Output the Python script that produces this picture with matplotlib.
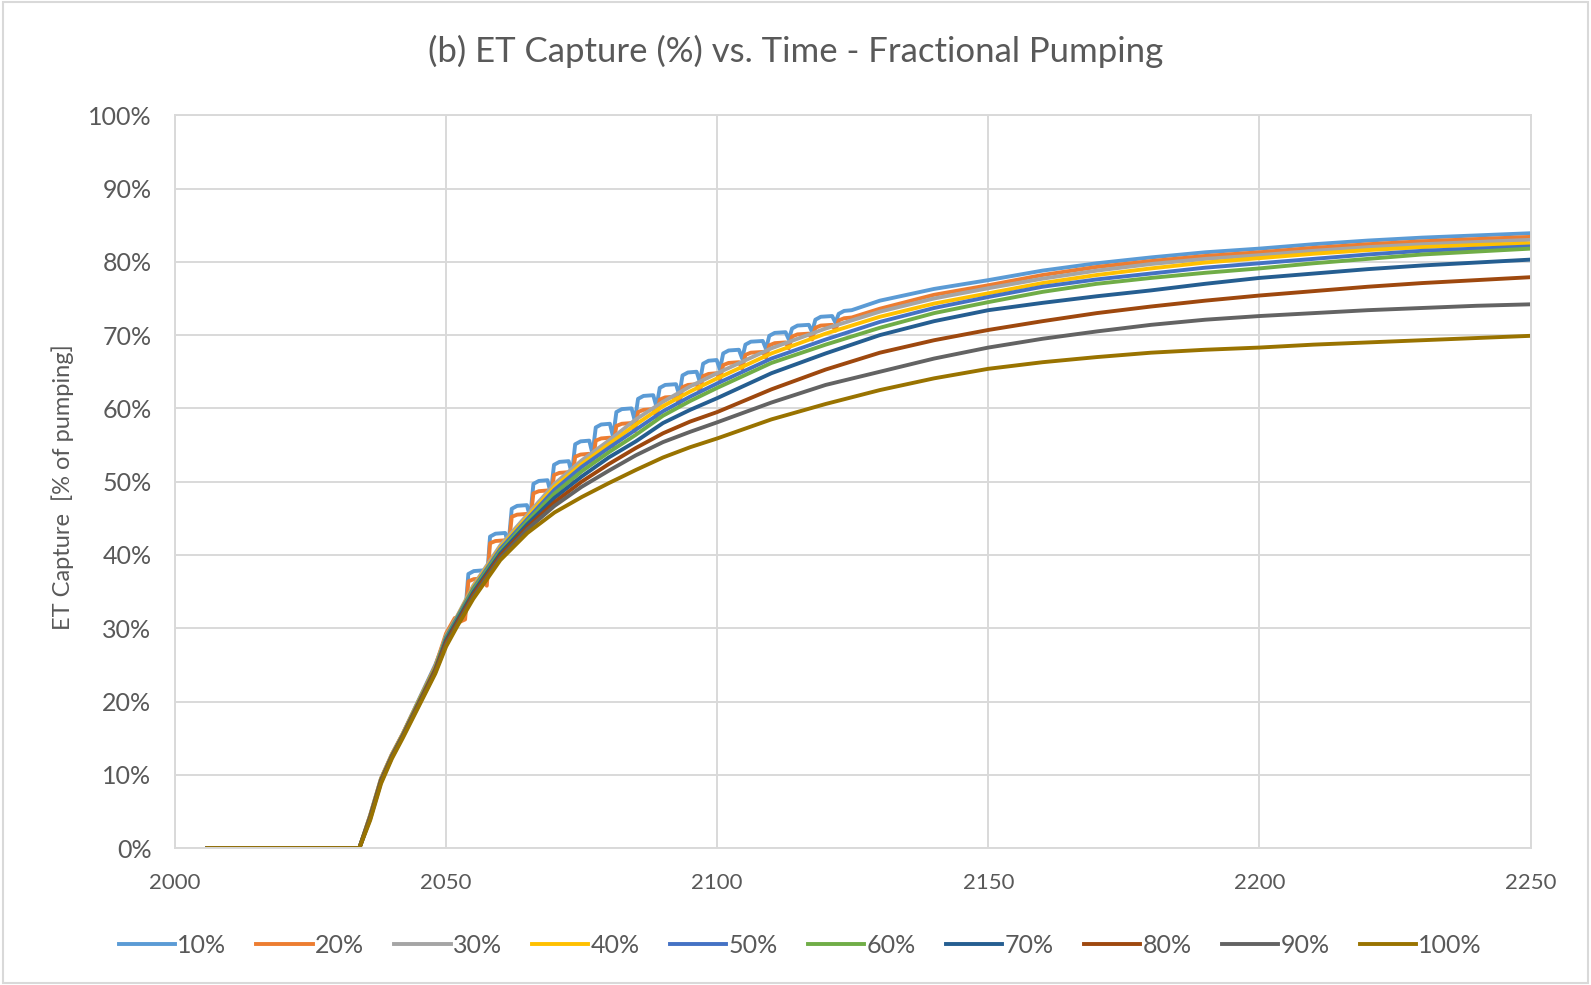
import matplotlib
matplotlib.use("Agg")
import matplotlib.pyplot as plt
from matplotlib.ticker import PercentFormatter, MultipleLocator
from matplotlib.patches import Rectangle

plt.rcParams['font.family'] = ['Lato', 'DejaVu Sans']

# shared time grid for the smoother curves
years = [2006, 2034, 2036, 2038, 2040, 2042, 2045, 2048, 2050, 2052, 2055, 2060,
         2065, 2070, 2075, 2080, 2085, 2090, 2095, 2100, 2110, 2120, 2130, 2140,
         2150, 2160, 2170, 2180, 2190, 2200, 2210, 2220, 2230, 2240, 2250]

# 10% and 20% show the saw-tooth, so they get a denser grid of their own
years_saw = [2053.5, 2054.1, 2055.1, 2056.9, 2057.5, 2058.1, 2059.1, 2060.9,
             2061.5, 2062.1, 2063.1, 2064.9, 2065.5, 2066.1, 2067.1, 2068.7,
             2069.3, 2069.9, 2070.9, 2072.6, 2073.2, 2073.8, 2074.8, 2076.4,
             2077.0, 2077.6, 2078.6, 2080.2, 2080.8, 2081.4, 2082.4, 2084.2,
             2084.8, 2085.4, 2086.4, 2088.2, 2088.8, 2089.4, 2090.4, 2092.4,
             2093.0, 2093.6, 2094.6, 2096.2, 2096.8, 2097.4, 2098.4, 2099.9,
             2100.5, 2101.1, 2102.1, 2104.0, 2104.6, 2105.2, 2106.2, 2108.4,
             2109.0, 2109.6, 2110.6, 2112.6, 2113.2, 2113.8, 2114.8, 2116.9,
             2117.5, 2118.1, 2119.1, 2121.2, 2121.8, 2122.4, 2123.4, 2124.8]
years_late = [2130, 2140, 2150, 2160, 2170, 2180, 2190, 2200, 2210, 2220, 2230, 2240, 2250]

years_10 = [2006, 2034, 2036, 2038, 2040, 2042, 2045, 2048, 2050, 2052] + years_saw + years_late
cap_10 = [0, 0, 4.5, 9.5, 12.8, 15.6, 20.3, 25.0, 28.8, 31.0,
          31.8, 37.4, 37.8, 37.9, 36.4, 42.5, 42.9, 43.0,
          41.4, 46.3, 46.7, 46.8, 45.1, 49.7, 50.1, 50.2,
          48.4, 52.3, 52.7, 52.8, 51.0, 55.1, 55.5, 55.6,
          53.8, 57.4, 57.8, 57.9, 56.1, 59.5, 59.9, 60.0,
          58.3, 61.3, 61.7, 61.8, 60.2, 62.8, 63.2, 63.3,
          61.8, 64.5, 64.9, 65.0, 63.6, 66.1, 66.5, 66.6,
          65.3, 67.5, 67.9, 68.0, 66.8, 68.7, 69.1, 69.2,
          68.1, 69.9, 70.3, 70.4, 69.4, 70.9, 71.3, 71.4,
          70.4, 72.1, 72.5, 72.6, 71.7, 72.9, 73.3, 73.4,
          74.7, 76.3, 77.5, 78.8, 79.8, 80.6, 81.3, 81.8, 82.4, 82.9, 83.3, 83.6, 83.9]

years_20 = [2006, 2034, 2036, 2038, 2040, 2042, 2045, 2048, 2050, 2051.6, 2052.6] + years_saw + years_late
cap_20 = [0, 0, 4.5, 9.5, 12.8, 15.6, 20.2, 24.8, 29.3, 31.4, 30.9,
          31.2, 36.4, 36.7, 36.8, 35.8, 41.6, 41.9, 42.0,
          40.9, 45.2, 45.5, 45.6, 44.5, 48.4, 48.7, 48.8,
          47.6, 50.9, 51.2, 51.3, 50.1, 53.4, 53.7, 53.8,
          52.6, 55.6, 55.9, 56.0, 54.8, 57.6, 57.9, 58.0,
          56.9, 59.5, 59.8, 59.9, 58.8, 61.2, 61.5, 61.6,
          60.6, 62.9, 63.2, 63.3, 62.3, 64.4, 64.7, 64.8,
          63.9, 65.9, 66.2, 66.3, 65.4, 67.3, 67.6, 67.7,
          66.9, 68.6, 68.9, 69.0, 68.2, 69.8, 70.1, 70.2,
          69.4, 71.0, 71.3, 71.4, 70.6, 72.0, 72.3, 72.4,
          73.6, 75.5, 76.8, 78.2, 79.3, 80.1, 80.8, 81.3, 81.9, 82.4, 82.8, 83.1, 83.4]

cap_30 = [0, 0, 4.4, 9.4, 12.7, 15.5, 20.1, 24.6,
          29.0, 31.6, 35.8, 41.3, 45.5, 49.7, 52.9, 55.6, 58.5, 60.9, 63.0, 64.8, 68.2, 70.9,
          73.2, 75.0, 76.4, 77.7, 78.8, 79.7, 80.4, 80.9, 81.5, 82.0, 82.4, 82.7, 83.0]
cap_40 = [0, 0, 4.4, 9.4, 12.7, 15.5, 20.1, 24.6,
          28.9, 31.5, 35.6, 41.0, 45.2, 49.3, 52.4, 55.1, 57.8, 60.3, 62.3, 64.1, 67.5, 70.2,
          72.5, 74.3, 75.7, 77.1, 78.2, 79.1, 79.9, 80.5, 81.1, 81.6, 82.0, 82.3, 82.5]
cap_50 = [0, 0, 4.3, 9.3, 12.6, 15.4, 20.0, 24.5,
          28.8, 31.4, 35.4, 40.8, 44.9, 48.9, 52.0, 54.6, 57.1, 59.6, 61.6, 63.4, 66.8, 69.4,
          71.8, 73.7, 75.2, 76.6, 77.6, 78.4, 79.2, 79.8, 80.4, 81.0, 81.5, 81.8, 82.1]
cap_60 = [0, 0, 4.3, 9.3, 12.6, 15.4, 20.0, 24.5,
          28.6, 31.2, 35.2, 40.5, 44.6, 48.4, 51.4, 54.0, 56.4, 59.0, 61.0, 62.8, 66.2, 68.7,
          71.0, 73.0, 74.5, 75.9, 77.0, 77.8, 78.5, 79.1, 79.8, 80.4, 81.0, 81.4, 81.8]
cap_70 = [0, 0, 4.2, 9.2, 12.5, 15.3, 19.8, 24.3,
          28.4, 31.0, 34.9, 40.2, 44.2, 47.8, 50.7, 53.3, 55.5, 58.0, 59.8, 61.4, 64.8, 67.5,
          70.0, 71.9, 73.4, 74.4, 75.3, 76.1, 77.0, 77.8, 78.4, 79.0, 79.5, 79.9, 80.3]
cap_80 = [0, 0, 4.2, 9.2, 12.5, 15.3, 19.8, 24.3,
          28.1, 30.7, 34.6, 39.9, 43.8, 47.2, 50.0, 52.4, 54.6, 56.6, 58.2, 59.5, 62.6, 65.3,
          67.6, 69.3, 70.7, 71.9, 73.0, 73.9, 74.7, 75.4, 76.0, 76.6, 77.1, 77.5, 77.9]
cap_90 = [0, 0, 4.0, 9.0, 12.4, 15.2, 19.6, 24.0,
          27.8, 30.4, 34.3, 39.6, 43.5, 46.7, 49.3, 51.5, 53.6, 55.4, 56.8, 58.1, 60.8, 63.2,
          65.0, 66.8, 68.3, 69.5, 70.5, 71.4, 72.1, 72.6, 73.0, 73.4, 73.7, 74.0, 74.2]
cap_100 = [0, 0, 3.8, 8.8, 12.2, 15.0, 19.4, 23.8,
           27.5, 30.2, 34.0, 39.3, 43.0, 45.8, 47.9, 49.8, 51.6, 53.3, 54.7, 55.9, 58.5, 60.6,
           62.5, 64.1, 65.4, 66.3, 67.0, 67.6, 68.0, 68.3, 68.7, 69.0, 69.3, 69.6, 69.9]

labels = ['10%', '20%', '30%', '40%', '50%', '60%', '70%', '80%', '90%', '100%']
colors = ['#5B9BD5', '#ED7D31', '#A5A5A5', '#FFC000', '#4472C4',
          '#70AD47', '#255E91', '#9E480E', '#636363', '#997300']

series = [(years_10, cap_10), (years_20, cap_20), (years, cap_30), (years, cap_40),
          (years, cap_50), (years, cap_60), (years, cap_70), (years, cap_80),
          (years, cap_90), (years, cap_100)]

txt = '#595959'
grid = '#D9D9D9'

fig = plt.figure(figsize=(15.91, 9.85), dpi=100)
ax = fig.add_axes([0.110, 0.139, 0.852, 0.744])

for (x, y), lab, col in zip(series, labels, colors):
    ax.plot(x, y, color=col, lw=2.8, label=lab, solid_joinstyle='round')

ax.set_xlim(2000, 2250)
ax.set_ylim(0, 100)
ax.xaxis.set_major_locator(MultipleLocator(50))
ax.yaxis.set_major_locator(MultipleLocator(10))
ax.yaxis.set_major_formatter(PercentFormatter(xmax=100, decimals=0))
ax.grid(True, color=grid, lw=1.4)
ax.set_axisbelow(True)
for s in ax.spines.values():
    s.set_color(grid)
    s.set_linewidth(1.4)
ax.tick_params(length=0, labelcolor=txt)
ax.tick_params(axis='x', labelsize=16, pad=18)
ax.tick_params(axis='y', labelsize=18, pad=17)

fig.text(0.0396, 0.505, 'ET Capture  [% of pumping]', rotation=90,
         ha='center', va='center', fontsize=17, color=txt)
fig.text(0.5, 0.948, '(b) ET Capture (%) vs. Time - Fractional Pumping',
         ha='center', va='center', fontsize=25, color=txt)

fig.legend(loc='center', bbox_to_anchor=(0.503, 0.040), ncol=10, frameon=False,
           fontsize=18, labelcolor=txt, handlelength=2.25, handletextpad=0.1,
           columnspacing=1.2)

fig.patches.append(Rectangle((0.002, 0.002), 0.996, 0.996, transform=fig.transFigure,
                             fill=False, edgecolor=grid, lw=1.5))

fig.savefig('out.png', dpi=100)
